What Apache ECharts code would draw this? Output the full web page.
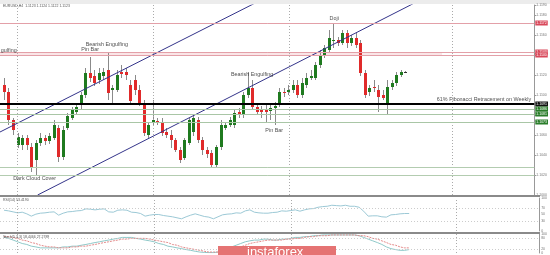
<!DOCTYPE html>
<html><head><meta charset="utf-8">
<script src="https://cdn.jsdelivr.net/npm/echarts@6/dist/echarts.min.js"></script>
<style>html,body{margin:0;padding:0;background:#fff}#c{width:550px;height:255px}</style>
</head><body><div id="c"></div>
<script>
// ---- candle data (EURUSD H4) ----
const openP = [
1.1110,1.1103,1.1075,1.1050,1.1050,1.1057,1.1048,1.1035,1.1052,1.1057,
1.1054,1.1057,1.1067,1.1038,1.1067,1.1077,1.1083,1.1092,1.1100,1.1122,
1.1119,1.1115,1.1119,1.1125,1.1105,1.1105,1.1123,1.1123,1.1110,1.1115,
1.1105,1.1092,1.1060,1.1073,1.1074,1.1073,1.1063,1.1060,1.1055,1.1045,
1.1037,1.1052,1.1063,1.1075,1.1055,1.1045,1.1042,1.1030,1.1048,1.1067,
1.1070,1.1070,1.1083,1.1080,1.1100,1.1107,1.1088,1.1085,1.1085,1.1084,
1.1087,1.1092,1.1103,1.1103,1.1105,1.1110,1.1100,1.1110,1.1117,1.1117,
1.1130,1.1140,1.1145,1.1154,1.1155,1.1152,1.1162,1.1152,1.1157,1.1152,
1.1122,1.1103,1.1108,1.1105,1.1100,1.1092,1.1108,1.1112,1.1120,1.1123];
const closeP = [
1.1103,1.1075,1.1065,1.1058,1.1057,1.1050,1.1027,1.1052,1.1057,1.1054,
1.1059,1.1070,1.1038,1.1065,1.1079,1.1085,1.1088,1.1100,1.1122,1.1117,
1.1112,1.1122,1.1123,1.1102,1.1107,1.1120,1.1121,1.1120,1.1094,1.1105,
1.1092,1.1062,1.1070,1.1075,1.1073,1.1062,1.1060,1.1055,1.1045,1.1035,
1.1055,1.1075,1.1077,1.1055,1.1045,1.1041,1.1030,1.1048,1.1070,1.1070,
1.1075,1.1082,1.1080,1.1100,1.1107,1.1088,1.1083,1.1083,1.1083,1.1087,
1.1089,1.1103,1.1102,1.1105,1.1110,1.1100,1.1112,1.1117,1.1119,1.1130,
1.1140,1.1147,1.1157,1.1155,1.1152,1.1162,1.1152,1.1157,1.1150,1.1122,
1.1100,1.1107,1.1107,1.1098,1.1097,1.1108,1.1112,1.1120,1.1123,1.1123];
const highP = [
1.1117,1.1107,1.1077,1.1062,1.1060,1.1060,1.1052,1.1055,1.1062,1.1060,
1.1062,1.1075,1.1070,1.1069,1.1082,1.1088,1.1091,1.1103,1.1127,1.1138,
1.1125,1.1127,1.1127,1.1143,1.1110,1.1125,1.1130,1.1127,1.1115,1.1120,
1.1110,1.1095,1.1073,1.1095,1.1077,1.1077,1.1067,1.1065,1.1057,1.1048,
1.1057,1.1077,1.1081,1.1078,1.1058,1.1048,1.1045,1.1050,1.1075,1.1073,
1.1078,1.1085,1.1087,1.1103,1.1123,1.1115,1.1091,1.1089,1.1090,1.1091,
1.1093,1.1107,1.1107,1.1110,1.1115,1.1115,1.1117,1.1122,1.1125,1.1133,
1.1145,1.1150,1.1165,1.1172,1.1158,1.1165,1.1165,1.1160,1.1162,1.1155,
1.1125,1.1110,1.1115,1.1110,1.1105,1.1115,1.1115,1.1123,1.1125,1.1124];
const lowP = [
1.1095,1.1070,1.1060,1.1047,1.1045,1.1045,1.1023,1.1020,1.1049,1.1050,
1.1051,1.1055,1.1033,1.1035,1.1065,1.1075,1.1081,1.1085,1.1097,1.1113,
1.1109,1.1111,1.1115,1.1095,1.1092,1.1103,1.1117,1.1115,1.1091,1.1100,
1.1089,1.1059,1.1057,1.1070,1.1070,1.1059,1.1057,1.1047,1.1043,1.1032,
1.1035,1.1050,1.1059,1.1052,1.1040,1.1037,1.1028,1.1028,1.1045,1.1065,
1.1068,1.1067,1.1077,1.1077,1.1097,1.1085,1.1080,1.1077,1.1073,1.1075,
1.1070,1.1088,1.1098,1.1100,1.1102,1.1097,1.1097,1.1107,1.1115,1.1115,
1.1127,1.1137,1.1143,1.1147,1.1149,1.1150,1.1147,1.1149,1.1147,1.1119,
1.1097,1.1099,1.1103,1.1083,1.1095,1.1080,1.1105,1.1109,1.1118,1.1122];

// ---- indicators ----
const rsi = [
63,61,58,55,57,52,45,51,54,55, 57,58,48,54,58,59,61,62,67,66,
64,66,67,58,57,63,64,63,57,56, 53,45,48,50,50,47,45,43,40,37,
43,48,52,48,44,42,37,43,49,51, 52,55,54,61,64,57,55,54,54,56,
57,61,60,62,64,60,64,67,68,72, 74,75,78,77,76,78,75,75,72,60,
45,46,46,43,42,49,50,52,53,53];
const stochK = [
82,77,68,59,50,45,36,32,27,27, 27,27,27,32,32,36,36,41,45,50,
55,59,64,68,73,77,82,82,82,77, 73,68,64,59,50,45,36,32,27,23,
18,14,9,5,3,2,2,5,14,23, 32,41,50,59,64,68,68,73,73,68,
68,73,73,77,82,82,86,86,91,91, 95,95,95,95,95,95,95,95,91,82,
73,64,55,45,32,23,18,14,14,18];
const stochD = [
86,86,82,77,68,64,55,50,41,36, 32,32,27,27,27,32,32,36,36,41,
45,50,55,59,64,68,73,73,77,77, 77,77,73,68,64,59,55,45,41,32,
27,23,18,14,9,5,5,5,5,9, 14,23,32,41,50,55,59,64,68,68,
68,68,73,73,77,77,82,86,86,91, 91,91,95,95,95,95,95,95,91,91,
86,77,73,64,55,45,41,32,27,27];

// ---- levels & drawings (price / bar index) ----
const redLevels = [1.1172, 1.1143, 1.1140];
const fibLevel = 1.1091;
const greenLevels = [1.1086, 1.1081, 1.1073];
const lowerGreenLevels = [1.1028, 1.1020];
const currentPrice = 1.1123;
const weekSeparators = [2.85, 33.1, 63.2, 99.3];
const trendUpper = [[-0.88, 1.1063], [55.7, 1.1192]];
const trendLower = [[7.46, 1.1000], [92.3, 1.1195]];
const pinkBand = [[-0.88, 1.1143], [97.1, 1.1140]];
const annotations = [
  [-0.7, 1.1144, 'gulfing', 'left'],
  [22.8, 1.1150, 'Bearish Engulfing', 'center'],
  [19.1, 1.1145, 'Pin Bar', 'center'],
  [73.2, 1.1176, 'Doji', 'center'],
  [55.0, 1.1120, 'Bearish Engulfing', 'center'],
  [106.4, 1.1095, '61% Fibonacci Retracement on Weekly', 'center'],
  [59.9, 1.1064, 'Pin Bar', 'center'],
  [6.8, 1.1016, 'Dark Cloud Cover', 'center']
];
const rsiLevels = [70, 30];
const stochLevels = [80, 20];

const X_MIN = -0.88, X_MAX = 117.55;
const candles = openP.map((o, i) => [i, o, closeP[i], lowP[i], highP[i]]);

const sepLines = weekSeparators.map(v => ({ xAxis: v, lineStyle: { color: '#aaa', type: [1, 2], width: 1 } }));
const tagLabel = (v, bg) => ({ show: true, position: 'end', distance: 1, formatter: v.toFixed(4), fontSize: 3.5,
    color: '#fff', backgroundColor: bg, padding: [0.5, 1], fontFamily: 'Liberation Sans' });

const chart = echarts.init(document.getElementById('c'), null, { renderer: 'canvas' });
chart.setOption({
  animation: false,
  backgroundColor: '#fff',
  grid: [
    { left: 0, width: 540, top: 5, height: 190 },
    { left: 0, width: 540, top: 198, height: 33 },
    { left: 0, width: 540, top: 234, height: 22 }
  ],
  xAxis: [0, 1, 2].map(g => ({ type: 'value', gridIndex: g, min: X_MIN, max: X_MAX, show: false })),
  yAxis: [
    { type: 'value', gridIndex: 0, min: 1.1000, max: 1.1190, interval: 0.002, position: 'right',
      axisLine: { show: true, onZero: false, lineStyle: { color: '#999' } }, axisTick: { show: true, length: 2, lineStyle: { color: '#999' } },
      axisLabel: { fontSize: 3.5, color: '#777', margin: 2, formatter: v => v.toFixed(4) }, splitLine: { show: false } },
    { type: 'value', gridIndex: 1, min: 0, max: 100, interval: 10, position: 'right',
      axisLine: { show: true, onZero: false, lineStyle: { color: '#999' } }, axisTick: { show: false },
      axisLabel: { fontSize: 3.5, color: '#777', margin: 2, formatter: v => [0, 30, 50, 70, 100].includes(v) ? String(v) : '' },
      splitLine: { show: false } },
    { type: 'value', gridIndex: 2, min: 0, max: 100, interval: 10, position: 'right',
      axisLine: { show: true, onZero: false, lineStyle: { color: '#999' } }, axisTick: { show: false },
      axisLabel: { fontSize: 3.5, color: '#777', margin: 2, formatter: v => [0, 20, 80, 100].includes(v) ? String(v) : '' },
      splitLine: { show: false } }
  ],
  series: [
    {
      type: 'custom', xAxisIndex: 0, yAxisIndex: 0, data: candles, encode: { x: 0, y: [1, 2, 3, 4] },
      renderItem: (params, api) => {
        const i = api.value(0), o = api.value(1), c = api.value(2), l = api.value(3), h = api.value(4);
        const pO = api.coord([i, o]), pC = api.coord([i, c]), pL = api.coord([i, l]), pH = api.coord([i, h]);
        const x = Math.round(pO[0]) + 0.5;
        const top = Math.min(pO[1], pC[1]);
        const hh = Math.max(1, Math.abs(pO[1] - pC[1]));
        const col = c > o ? '#1f7a1f' : (c < o ? '#e02a2a' : '#333');
        return { type: 'group', children: [
          { type: 'line', shape: { x1: x, y1: pH[1], x2: x, y2: pL[1] }, style: { stroke: '#8a8a8a', lineWidth: 1 } },
          { type: 'rect', shape: { x: x - 1.5, y: top, width: 3, height: hh }, style: { fill: col } }
        ] };
      },
      markArea: { silent: true, itemStyle: { color: 'rgba(240,180,185,0.35)' },
        data: [[{ coord: pinkBand[0] }, { coord: pinkBand[1] }]] },
      z: 3
    },
    { type: 'line', xAxisIndex: 0, yAxisIndex: 0, data: trendUpper, symbol: 'none', clip: true,
      lineStyle: { color: '#34348a', width: 1 }, z: 4,
      markLine: {
        silent: true, precision: 6, symbol: ['none', 'none'], label: { show: false },
        data: [
          ...sepLines,
          ...redLevels.map(v => ({ yAxis: v, label: tagLabel(v, '#d9485a'), lineStyle: { color: '#e3a0a8', width: 1, type: 'solid' } })),
          { yAxis: fibLevel, label: tagLabel(fibLevel, '#111'), lineStyle: { color: '#000', width: 2, type: 'solid' } },
          ...greenLevels.map(v => ({ yAxis: v, label: tagLabel(v, '#2a7d2a'), lineStyle: { color: '#a9c6a6', width: 1, type: 'solid' } })),
          ...lowerGreenLevels.map(v => ({ yAxis: v, lineStyle: { color: '#b3ccb0', width: 1, type: 'solid' } })),
          { yAxis: currentPrice, label: tagLabel(currentPrice, '#333'), lineStyle: { opacity: 0 } }
        ]
      }
    },
    { type: 'line', xAxisIndex: 0, yAxisIndex: 0, data: trendLower, symbol: 'none', clip: true,
      lineStyle: { color: '#34348a', width: 1 }, z: 4 },
    { type: 'scatter', xAxisIndex: 0, yAxisIndex: 0, symbolSize: 0,
      data: annotations.map(a => ({ value: [a[0], a[1]], name: a[2],
        label: { align: a[3], position: a[3] === 'left' ? 'right' : 'inside', distance: 0 } })),
      label: { show: true, position: 'inside', fontSize: 5.4, color: '#222', fontFamily: 'Liberation Sans',
        formatter: p => p.name }, z: 6 },
    { type: 'line', xAxisIndex: 1, yAxisIndex: 1, data: rsi.map((v, i) => [i, v]), symbol: 'none',
      lineStyle: { color: '#9cc9d6', width: 1 },
      markLine: { silent: true, precision: 6, symbol: ['none', 'none'], label: { show: false },
        data: [...sepLines, ...rsiLevels.map(v => ({ yAxis: v, lineStyle: { color: '#ccc', type: [1, 2], width: 1 } }))] } },
    { type: 'line', xAxisIndex: 2, yAxisIndex: 2, data: stochK.map((v, i) => [i, v]), symbol: 'none',
      lineStyle: { color: '#8fc9c9', width: 1 },
      markLine: { silent: true, precision: 6, symbol: ['none', 'none'], label: { show: false },
        data: [...sepLines, ...stochLevels.map(v => ({ yAxis: v, lineStyle: { color: '#ccc', type: [1, 2], width: 1 } }))] } },
    { type: 'line', xAxisIndex: 2, yAxisIndex: 2, data: stochD.map((v, i) => [i, v]), symbol: 'none',
      lineStyle: { color: '#e38a8a', width: 1, type: [2, 1] } }
  ],
  graphic: [
    { type: 'rect', shape: { x: 0, y: 0, width: 550, height: 4 }, style: { fill: '#ececec' }, z: 0 },
    { type: 'rect', shape: { x: 0, y: 195, width: 540, height: 2 }, style: { fill: '#8a8a8a' }, z: 10 },
    { type: 'rect', shape: { x: 0, y: 232, width: 540, height: 2 }, style: { fill: '#8a8a8a' }, z: 10 },
    { type: 'text', x: 3, y: 4, style: { text: 'EURUSD,H4  1.1123 1.1124 1.1122 1.1123', fontSize: 3.5, fill: '#555', fontFamily: 'Liberation Sans' }, z: 10 },
    { type: 'text', x: 3, y: 198, style: { text: 'RSI(14) 53.4190', fontSize: 3.5, fill: '#555', fontFamily: 'Liberation Sans' }, z: 10 },
    { type: 'text', x: 3, y: 235, style: { text: 'Stoch(5,3,3) 18.4466 27.2789', fontSize: 3.5, fill: '#555', fontFamily: 'Liberation Sans' }, z: 10 },
    { type: 'rect', shape: { x: 218, y: 246, width: 118, height: 9 }, style: { fill: '#e57373' }, z: 20 },
    { type: 'text', x: 247, y: 246, style: { text: 'instaforex', fontSize: 13, fill: '#fff', fontFamily: 'Liberation Sans' }, z: 21 }
  ]
});
</script>
</body></html>
